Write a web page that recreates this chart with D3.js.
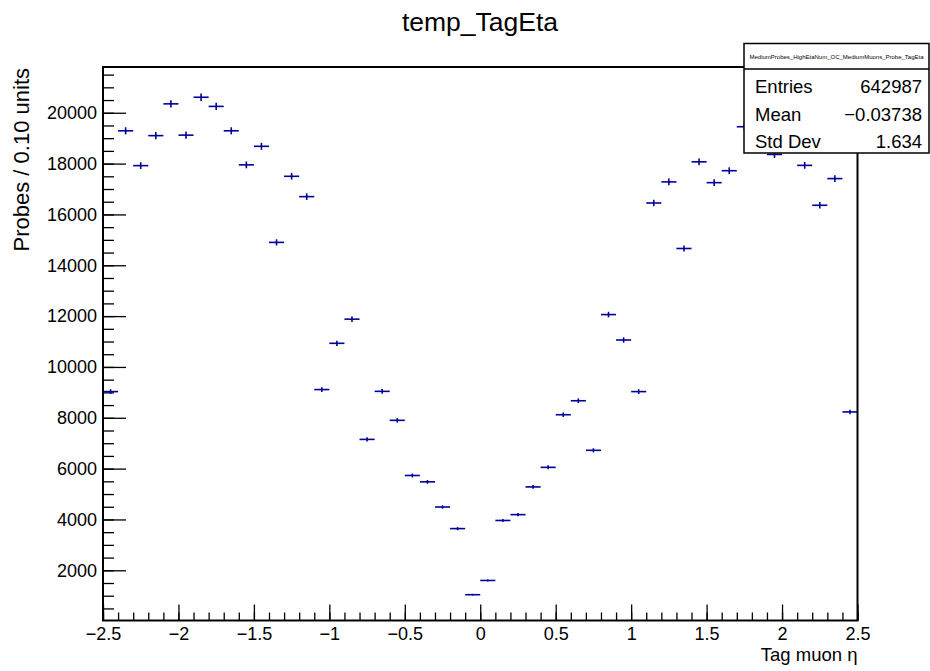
<!DOCTYPE html>
<html>
<head>
<meta charset="utf-8">
<script src="https://cdn.jsdelivr.net/npm/d3@7"></script>
<style>
  body { margin: 0; background: #fff; }
  svg { display: block; font-family: "Liberation Sans", Arial, Helvetica, sans-serif; }
</style>
</head>
<body>
<svg id="chart"></svg>
<script>
// bin centres of the tag-muon eta histogram (50 bins, 0.1 wide)
const etaCenters = [
  -2.45, -2.35, -2.25, -2.15, -2.05, -1.95, -1.85, -1.75, -1.65, -1.55,
  -1.45, -1.35, -1.25, -1.15, -1.05, -0.95, -0.85, -0.75, -0.65, -0.55,
  -0.45, -0.35, -0.25, -0.15, -0.05, 0.05, 0.15, 0.25, 0.35, 0.45,
  0.55, 0.65, 0.75, 0.85, 0.95, 1.05, 1.15, 1.25, 1.35, 1.45,
  1.55, 1.65, 1.75, 1.85, 1.95, 2.05, 2.15, 2.25, 2.35, 2.45
];
const binWidth = 0.1;

const probeCounts = [
  9030, 19290, 17920, 19100, 20350, 19120, 20610, 20250, 19290, 17950,
  18680, 14900, 17500, 16700, 9110, 10930, 11880, 7150, 9040, 7900,
  5730, 5480, 4490, 3640, 1040, 1600, 3960, 4190, 5280, 6050,
  8120, 8670, 6720, 12060, 11060, 9030, 16450, 17280, 14660, 18070,
  17250, 17720, 19450, 20200, 18360, 19800, 17930, 16360, 17410, 8230
];

const xMajorTicks = [-2.5, -2, -1.5, -1, -0.5, 0, 0.5, 1, 1.5, 2, 2.5];
const yMajorTicks = [2000, 4000, 6000, 8000, 10000, 12000, 14000, 16000, 18000, 20000];

const statsTitle = 'MediumProbes_HighEtaNum_OC_MediumMuons_Probe_TagEta';
const statsRows = [
  ['Entries', '642987'],
  ['Mean', '\u22120.03738'],
  ['Std Dev', '1.634']
];

const W = 930, H = 671;
const margin = { top: 67, right: 72.5, bottom: 50.5, left: 103 };
const width = W - margin.left - margin.right;
const height = H - margin.top - margin.bottom;

const svg = d3.select('#chart')
  .attr('width', W)
  .attr('height', H)
  .style('background', '#fff');

const xScale = d3.scaleLinear()
  .domain([-2.5, 2.5])
  .range([0, width]);

const yScale = d3.scaleLinear()
  .domain([25, 21800])
  .range([height, 0]);

const g = svg.append('g')
  .attr('transform', `translate(${margin.left},${margin.top})`);

// minor ticks
const xMinor = d3.axisBottom(xScale)
  .ticks(50)
  .tickSize(-8)
  .tickFormat('');
g.append('g')
  .attr('transform', `translate(0,${height})`)
  .call(xMinor)
  .call(a => a.select('.domain').remove())
  .call(a => a.selectAll('line').attr('stroke-width', 1.3));

const yMinor = d3.axisLeft(yScale)
  .tickValues(d3.range(500, 21800, 500))
  .tickSize(-11)
  .tickFormat('');
g.append('g')
  .call(yMinor)
  .call(a => a.select('.domain').remove())
  .call(a => a.selectAll('line').attr('stroke-width', 1.3));

// major ticks + labels
const xAxis = d3.axisBottom(xScale)
  .tickValues(xMajorTicks)
  .tickSize(-16)
  .tickPadding(7)
  .tickFormat(d3.format('~g'));
g.append('g')
  .attr('transform', `translate(0,${height})`)
  .call(xAxis)
  .call(a => a.select('.domain').remove())
  .call(a => a.selectAll('line').attr('stroke-width', 1.3))
  .call(a => a.selectAll('text')
    .attr('font-size', 18)
    .attr('font-family', '"Liberation Sans", Arial, sans-serif')
    .attr('fill', '#000'));

const yAxis = d3.axisLeft(yScale)
  .tickValues(yMajorTicks)
  .tickSize(-23)
  .tickPadding(6)
  .tickFormat(d3.format('d'));
g.append('g')
  .call(yAxis)
  .call(a => a.select('.domain').remove())
  .call(a => a.selectAll('line').attr('stroke-width', 1.3))
  .call(a => a.selectAll('text')
    .attr('font-size', 18)
    .attr('font-family', '"Liberation Sans", Arial, sans-serif')
    .attr('fill', '#000'));

// histogram points with error bars
const color = '#000099';
const pts = g.selectAll('.bin')
  .data(etaCenters.map((x, i) => ({ x, n: probeCounts[i] })))
  .enter()
  .append('g')
  .attr('class', 'bin');

pts.append('line')
  .attr('x1', d => xScale(d.x - binWidth / 2))
  .attr('x2', d => xScale(d.x + binWidth / 2))
  .attr('y1', d => yScale(d.n))
  .attr('y2', d => yScale(d.n))
  .attr('stroke', color)
  .attr('stroke-width', 1.6);

pts.append('line')
  .attr('x1', d => xScale(d.x))
  .attr('x2', d => xScale(d.x))
  .attr('y1', d => yScale(d.n - Math.sqrt(d.n)))
  .attr('y2', d => yScale(d.n + Math.sqrt(d.n)))
  .attr('stroke', color)
  .attr('stroke-width', 1.6);

// frame
g.append('rect')
  .attr('width', width)
  .attr('height', height)
  .attr('fill', 'none')
  .attr('stroke', '#000')
  .attr('stroke-width', 2);

// titles
svg.append('text')
  .attr('x', 480)
  .attr('y', 31)
  .attr('text-anchor', 'middle')
  .attr('font-size', 26.5)
  .text('temp_TagEta');

svg.append('text')
  .attr('transform', 'translate(29,68) rotate(-90)')
  .attr('text-anchor', 'end')
  .attr('font-size', 22)
  .text('Probes / 0.10 units');

svg.append('text')
  .attr('x', margin.left + width)
  .attr('y', 661)
  .attr('text-anchor', 'end')
  .attr('font-size', 18.5)
  .text('Tag muon \u03b7');

// stats box
const stats = svg.append('g');
stats.append('rect')
  .attr('x', 744)
  .attr('y', 43.5)
  .attr('width', 185)
  .attr('height', 109.5)
  .attr('fill', '#fff')
  .attr('stroke', '#000')
  .attr('stroke-width', 1.5);

stats.append('line')
  .attr('x1', 744)
  .attr('x2', 929)
  .attr('y1', 69)
  .attr('y2', 69)
  .attr('stroke', '#000')
  .attr('stroke-width', 1.3);

stats.append('text')
  .attr('x', 836.5)
  .attr('y', 59)
  .attr('text-anchor', 'middle')
  .attr('font-size', 6)
  .text(statsTitle);

statsRows.forEach((r, i) => {
  const yb = 93 + i * 27.5;
  stats.append('text')
    .attr('x', 755)
    .attr('y', yb)
    .attr('font-size', 18.5)
    .text(r[0]);
  stats.append('text')
    .attr('x', 922)
    .attr('y', yb)
    .attr('text-anchor', 'end')
    .attr('font-size', 18.5)
    .text(r[1]);
});
</script>
</body>
</html>
